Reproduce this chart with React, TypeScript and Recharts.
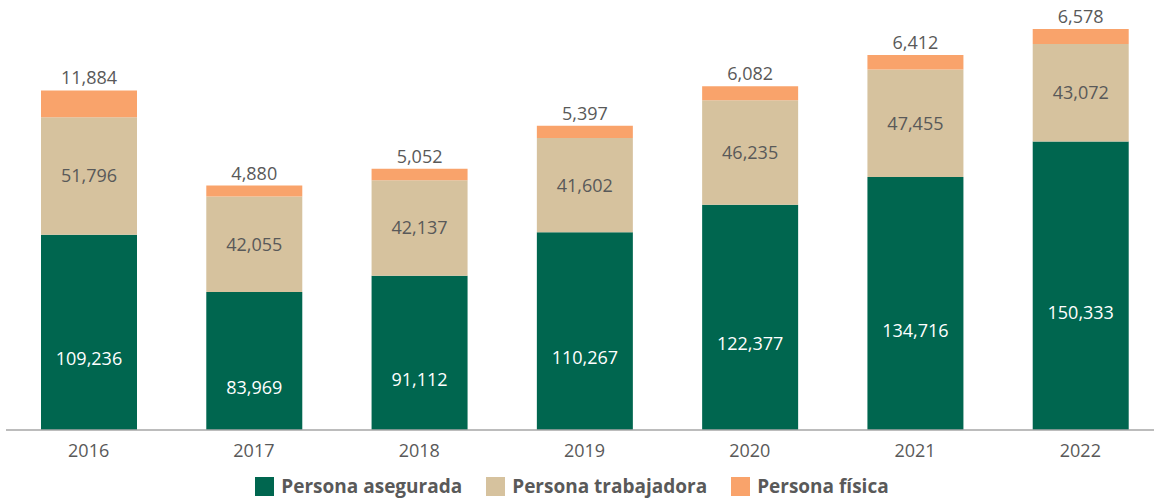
import React from 'react';
import { BarChart, Bar, XAxis, YAxis, LabelList } from 'recharts';

const YEARS = ['2016', '2017', '2018', '2019', '2020', '2021', '2022'];
const ASEGURADA = [109236, 83969, 91112, 110267, 122377, 134716, 150333];
const TRABAJADORA = [51796, 42055, 42137, 41602, 46235, 47455, 43072];
const FISICA = [11884, 4880, 5052, 5397, 6082, 6412, 6578];

const SERIES = [
  { key: 'asegurada', name: 'Persona asegurada', color: '#00664f', label: '#ffffff' },
  { key: 'trabajadora', name: 'Persona trabajadora', color: '#d6c29e', label: '#595959' },
  { key: 'fisica', name: 'Persona física', color: '#f9a36b', label: '#595959' },
];

const data = YEARS.map((year, i) => ({
  year,
  asegurada: ASEGURADA[i],
  trabajadora: TRABAJADORA[i],
  fisica: FISICA[i],
}));

const FONT = '"Open Sans", sans-serif';
const Y_MIN = 23000;
const Y_MAX = 208400;
const PLOT_H = 420;
const fmt = (v: any) => Number(v).toLocaleString('en-US');

// the bottom segment starts at zero, below the axis: centre its label on the full bar
const BaseLabel = (props: any) => {
  const { x, y, width, value } = props;
  const full = (Number(value) * PLOT_H) / (Y_MAX - Y_MIN);
  return (
    <text x={x + width / 2} y={y + full / 2} textAnchor="middle" dominantBaseline="central" fill="#ffffff" style={{ fontSize: 18, fontFamily: FONT }}>
      {fmt(value)}
    </text>
  );
};

const LegendBox = () => (
  <div style={{ display: 'flex', justifyContent: 'center', gap: 24, fontFamily: FONT, fontWeight: 700, fontSize: 19, lineHeight: '20px', color: '#595959', marginLeft: -10 }}>
    {SERIES.map(s => (
      <div key={s.key} style={{ display: 'flex', alignItems: 'center' }}>
        <span style={{ width: 19, height: 19, background: s.color, display: 'inline-block', marginRight: 7 }} />
        <span>{s.name}</span>
      </div>
    ))}
  </div>
);

export default function App() {
  return (
    <div style={{ position: 'fixed', left: 0, top: 0, width: 1154, height: 499, overflow: 'hidden', background: '#fff' }}>
      <BarChart width={1170} height={470} data={data} margin={{ top: 10, right: 7, bottom: 0, left: 6 }}>
        <XAxis
          dataKey="year"
          axisLine={{ stroke: '#a6a6a6', strokeWidth: 1.5 }}
          tickLine={false}
          tick={{ fill: '#595959', fontSize: 18, fontFamily: FONT }}
          tickMargin={8}
          height={40}
        />
        <YAxis hide domain={[Y_MIN, Y_MAX]} allowDataOverflow />
        {SERIES.map((s, i) => (
          <Bar key={s.key} dataKey={s.key} name={s.name} stackId="a" fill={s.color} barSize={96} isAnimationActive={false}>
            {i === 0 ? (
              <LabelList dataKey={s.key} content={BaseLabel} />
            ) : (
              <LabelList
                dataKey={s.key}
                position={i === 2 ? 'top' : 'center'}
                offset={6}
                formatter={fmt}
                fill={s.label}
                style={{ fontSize: 18, fontFamily: FONT }}
              />
            )}
          </Bar>
        ))}
      </BarChart>
      <div style={{ position: 'absolute', left: 0, top: 476, width: 1154 }}>
        <LegendBox />
      </div>
    </div>
  );
}
